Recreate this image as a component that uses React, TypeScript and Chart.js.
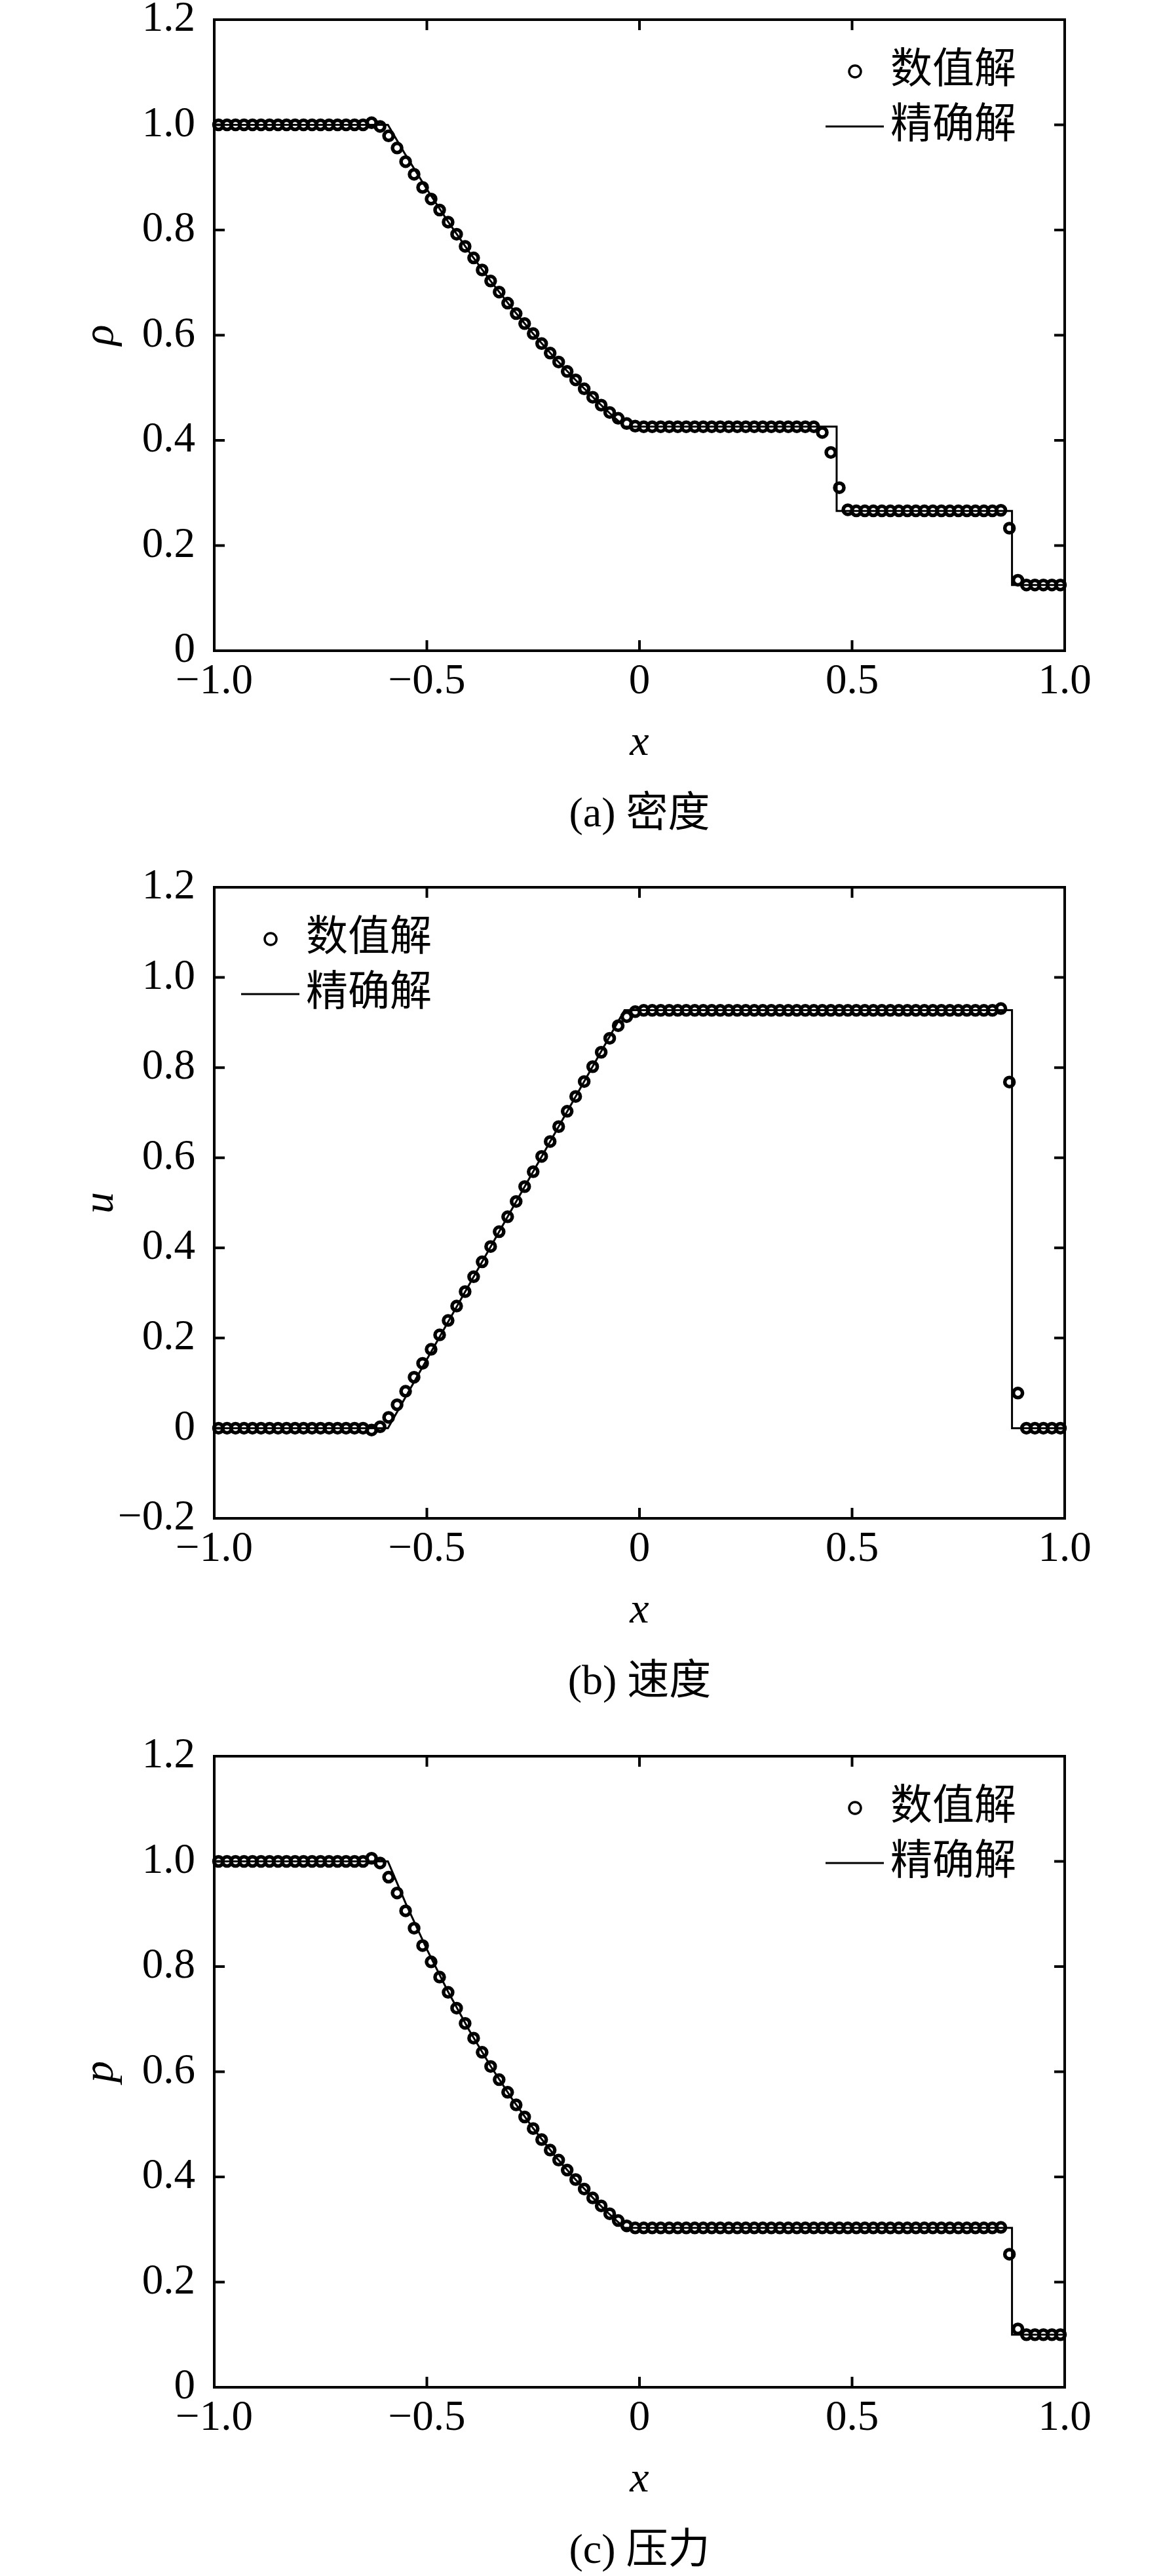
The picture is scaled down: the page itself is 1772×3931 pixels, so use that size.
import { useEffect, useRef } from 'react';
import { Chart, registerables } from 'chart.js';

Chart.register(...registerables);

// cell centres of the numerical solution
const cellX = [
  -0.99, -0.97, -0.95, -0.93, -0.91, -0.89, -0.87, -0.85, -0.83, -0.81,
  -0.79, -0.77, -0.75, -0.73, -0.71, -0.69, -0.67, -0.65, -0.63, -0.61,
  -0.59, -0.57, -0.55, -0.53, -0.51, -0.49, -0.47, -0.45, -0.43, -0.41,
  -0.39, -0.37, -0.35, -0.33, -0.31, -0.29, -0.27, -0.25, -0.23, -0.21,
  -0.19, -0.17, -0.15, -0.13, -0.11, -0.09, -0.07, -0.05, -0.03, -0.01,
  0.01, 0.03, 0.05, 0.07, 0.09, 0.11, 0.13, 0.15, 0.17, 0.19,
  0.21, 0.23, 0.25, 0.27, 0.29, 0.31, 0.33, 0.35, 0.37, 0.39,
  0.41, 0.43, 0.45, 0.47, 0.49, 0.51, 0.53, 0.55, 0.57, 0.59,
  0.61, 0.63, 0.65, 0.67, 0.69, 0.71, 0.73, 0.75, 0.77, 0.79,
  0.81, 0.83, 0.85, 0.87, 0.89, 0.91, 0.93, 0.95, 0.97, 0.99,
];

const rhoNum = [
  1, 1, 1, 1, 1, 1, 1, 1, 1, 1,
  1, 1, 1, 1, 1, 1, 1, 1, 1.004, 0.997,
  0.979, 0.956, 0.93, 0.906, 0.881, 0.859, 0.838, 0.815, 0.792, 0.769,
  0.747, 0.724, 0.703, 0.682, 0.661, 0.641, 0.622, 0.603, 0.584, 0.566,
  0.549, 0.531, 0.515, 0.498, 0.482, 0.467, 0.453, 0.442, 0.432, 0.427,
  0.426, 0.426, 0.426, 0.426, 0.426, 0.426, 0.426, 0.426, 0.426, 0.426,
  0.426, 0.426, 0.426, 0.426, 0.426, 0.426, 0.426, 0.426, 0.426, 0.426,
  0.426, 0.415, 0.377, 0.31, 0.268, 0.266, 0.266, 0.266, 0.266, 0.266,
  0.266, 0.266, 0.266, 0.266, 0.266, 0.266, 0.266, 0.266, 0.266, 0.266,
  0.266, 0.266, 0.267, 0.233, 0.134, 0.125, 0.125, 0.125, 0.125, 0.125,
];

const uNum = [
  0, 0, 0, 0, 0, 0, 0, 0, 0, 0,
  0, 0, 0, 0, 0, 0, 0, 0, -0.004, 0.003,
  0.024, 0.052, 0.082, 0.113, 0.144, 0.175, 0.207, 0.239, 0.271, 0.303,
  0.336, 0.369, 0.403, 0.436, 0.469, 0.503, 0.536, 0.569, 0.603, 0.636,
  0.669, 0.703, 0.736, 0.769, 0.802, 0.834, 0.865, 0.893, 0.913, 0.924,
  0.927, 0.927, 0.927, 0.927, 0.927, 0.927, 0.927, 0.927, 0.927, 0.927,
  0.927, 0.927, 0.927, 0.927, 0.927, 0.927, 0.927, 0.927, 0.927, 0.927,
  0.927, 0.927, 0.927, 0.927, 0.927, 0.927, 0.927, 0.927, 0.927, 0.927,
  0.927, 0.927, 0.927, 0.927, 0.927, 0.927, 0.927, 0.927, 0.927, 0.927,
  0.927, 0.927, 0.931, 0.768, 0.078, 0, 0, 0, 0, 0,
];

const pNum = [
  1, 1, 1, 1, 1, 1, 1, 1, 1, 1,
  1, 1, 1, 1, 1, 1, 1, 1, 1.006, 0.997,
  0.97, 0.94, 0.906, 0.873, 0.84, 0.809, 0.78, 0.751, 0.721, 0.692,
  0.664, 0.637, 0.61, 0.585, 0.561, 0.537, 0.514, 0.492, 0.471, 0.451,
  0.432, 0.413, 0.395, 0.377, 0.36, 0.345, 0.33, 0.317, 0.307, 0.303,
  0.303, 0.303, 0.303, 0.303, 0.303, 0.303, 0.303, 0.303, 0.303, 0.303,
  0.303, 0.303, 0.303, 0.303, 0.303, 0.303, 0.303, 0.303, 0.303, 0.303,
  0.303, 0.303, 0.303, 0.303, 0.303, 0.303, 0.303, 0.303, 0.303, 0.303,
  0.303, 0.303, 0.303, 0.303, 0.303, 0.303, 0.303, 0.303, 0.303, 0.303,
  0.303, 0.303, 0.304, 0.253, 0.111, 0.1, 0.1, 0.1, 0.1, 0.1,
];

// exact solution (polyline vertices)
const rhoExactX = [-1, -0.5916, -0.55, -0.5, -0.45, -0.4, -0.35, -0.3, -0.25, -0.2, -0.15, -0.1, -0.07, -0.0351, 0.4637, 0.4637, 0.8761, 0.8761, 1];
const rhoExactY = [1, 1, 0.9428, 0.8775, 0.8158, 0.7577, 0.703, 0.6514, 0.6029, 0.5574, 0.5146, 0.4746, 0.4517, 0.4263, 0.4263, 0.2656, 0.2656, 0.125, 0.125];
const uExactX = [-1, -0.5916, -0.0351, 0.8761, 0.8761, 1];
const uExactY = [0, 0, 0.9274, 0.9274, 0, 0];
const pExactX = [-1, -0.5916, -0.55, -0.5, -0.45, -0.4, -0.35, -0.3, -0.25, -0.2, -0.15, -0.1, -0.07, -0.0351, 0.8761, 0.8761, 1];
const pExactY = [1, 1, 0.9208, 0.8328, 0.752, 0.6781, 0.6105, 0.5488, 0.4925, 0.4412, 0.3946, 0.3522, 0.3287, 0.3031, 0.3031, 0.1, 0.1];

const xTickValues = [-1, -0.5, 0, 0.5, 1];
const xTickLabels = ['\u22121.0', '\u22120.5', '0', '0.5', '1.0'];
const yTickValues = [0, 0.2, 0.4, 0.6, 0.8, 1, 1.2];
const yTickLabels = ['0', '0.2', '0.4', '0.6', '0.8', '1.0', '1.2'];
const uTickValues = [-0.2, 0, 0.2, 0.4, 0.6, 0.8, 1, 1.2];
const uTickLabels = ['\u22120.2', '0', '0.2', '0.4', '0.6', '0.8', '1.0', '1.2'];

const seriesLabels = ['数值解', '精确解'];

const SERIF = '"Liberation Serif", "Times New Roman", "Noto Sans CJK SC", serif';
const CANVAS_W = 1772;
const PAD_TOP = 70; // must exceed the y-axis top label overhang (half line + tick padding)
const PLOT_H = 963;
const CANVAS_H = 1350;
const PLOT_LEFT = 327;
const PLOT_BOTTOM = PAD_TOP + PLOT_H;

type FrameOpts = { legendX: number };

const framePlugin = {
  id: 'frame',
  afterDatasetsDraw(chart: any, _args: any, opts: FrameOpts) {
    const { ctx, chartArea: a, scales } = chart;
    ctx.save();
    ctx.strokeStyle = '#000';
    ctx.lineWidth = 4;
    ctx.strokeRect(a.left, a.top, a.right - a.left, a.bottom - a.top);

    // inward ticks on all four sides
    ctx.beginPath();
    scales.x.ticks.forEach((t: any) => {
      const px = scales.x.getPixelForValue(t.value);
      ctx.moveTo(px, a.bottom);
      ctx.lineTo(px, a.bottom - 16);
      ctx.moveTo(px, a.top);
      ctx.lineTo(px, a.top + 16);
    });
    scales.y.ticks.forEach((t: any) => {
      const py = scales.y.getPixelForValue(t.value);
      ctx.moveTo(a.left, py);
      ctx.lineTo(a.left + 16, py);
      ctx.moveTo(a.right, py);
      ctx.lineTo(a.right - 16, py);
    });
    ctx.stroke();

    // legend
    const lx = a.left + opts.legendX;
    const row1 = a.top + 79;
    const row2 = a.top + 163;
    ctx.lineWidth = 3.5;
    ctx.beginPath();
    ctx.arc(lx + 45, row1, 9, 0, Math.PI * 2);
    ctx.stroke();
    ctx.lineWidth = 3;
    ctx.beginPath();
    ctx.moveTo(lx, row2);
    ctx.lineTo(lx + 89, row2);
    ctx.stroke();
    ctx.fillStyle = '#000';
    ctx.font = `64px ${SERIF}`;
    ctx.textAlign = 'left';
    ctx.textBaseline = 'middle';
    ctx.fillText(chart.data.datasets[0].label, lx + 99, row1);
    ctx.fillText(chart.data.datasets[1].label, lx + 99, row2);
    ctx.restore();
  },
};

type PanelProps = {
  top: number;
  yTitle: string;
  yMin: number;
  yTicks: number[];
  yLabels: string[];
  numY: number[];
  exactX: number[];
  exactY: number[];
  legendX: number;
  caption: string;
};

const Panel = ({ top, yTitle, yMin, yTicks, yLabels, numY, exactX, exactY, legendX, caption }: PanelProps) => {
  const canvasRef = useRef<HTMLCanvasElement>(null);

  useEffect(() => {
    if (!canvasRef.current) return;
    const chart = new Chart(canvasRef.current, {
      type: 'scatter',
      data: {
        datasets: [
          {
            label: seriesLabels[0],
            data: cellX.map((x, i) => ({ x, y: numY[i] })),
            pointStyle: 'circle',
            pointRadius: 7,
            pointBorderWidth: 5.5,
            pointBorderColor: '#000',
            pointBackgroundColor: 'rgba(0,0,0,0)',
            showLine: false,
            clip: 20,
          },
          {
            label: seriesLabels[1],
            data: exactX.map((x, i) => ({ x, y: exactY[i] })),
            showLine: true,
            pointRadius: 0,
            borderColor: '#000',
            borderWidth: 3,
            tension: 0,
          },
        ],
      },
      options: {
        animation: false,
        responsive: false,
        devicePixelRatio: 1,
        events: [],
        layout: { padding: { top: PAD_TOP, right: CANVAS_W - 1625, left: 0, bottom: 0 } },
        plugins: {
          legend: { display: false },
          tooltip: { enabled: false },
          frame: { legendX },
        } as any,
        scales: {
          x: {
            type: 'linear',
            min: -1,
            max: 1,
            afterBuildTicks: (s: any) => {
              s.ticks = xTickValues.map((value) => ({ value }));
            },
            afterFit: (s: any) => {
              s.height = CANVAS_H - PLOT_BOTTOM;
            },
            grid: { display: false, drawTicks: false },
            border: { display: false },
            ticks: {
              autoSkip: false,
              maxRotation: 0,
              padding: 9,
              color: '#000',
              font: { family: SERIF, size: 65 },
              callback: (_v: any, i: number) => xTickLabels[i],
            },
            title: {
              display: true,
              text: 'x',
              color: '#000',
              font: { family: SERIF, size: 66, style: 'italic' },
              padding: { top: 0, bottom: 136 },
            },
          },
          y: {
            type: 'linear',
            min: yMin,
            max: 1.2,
            afterBuildTicks: (s: any) => {
              s.ticks = yTicks.map((value) => ({ value }));
            },
            afterFit: (s: any) => {
              s.width = PLOT_LEFT;
            },
            grid: { display: false, drawTicks: false },
            border: { display: false },
            ticks: {
              autoSkip: false,
              padding: 29,
              color: '#000',
              font: { family: SERIF, size: 65 },
              callback: (_v: any, i: number) => yLabels[i],
            },
            title: {
              display: true,
              text: yTitle,
              color: '#000',
              font: { family: SERIF, size: 66, style: 'italic' },
              padding: { top: 115, bottom: 0 },
            },
          },
        },
      },
      plugins: [framePlugin],
    });
    return () => {
      chart.destroy();
    };
  }, []);

  return (
    <>
      <canvas
        ref={canvasRef}
        width={CANVAS_W}
        height={CANVAS_H}
        style={{ position: 'absolute', left: 0, top: top - PAD_TOP, width: CANVAS_W, height: CANVAS_H, display: 'block' }}
      />
      <div
        style={{
          position: 'absolute',
          left: PLOT_LEFT,
          width: 1298,
          top: top + PLOT_H + 212,
          height: 70,
          lineHeight: '70px',
          textAlign: 'center',
          fontFamily: SERIF,
          fontSize: 64,
          color: '#000',
          whiteSpace: 'nowrap',
        }}
      >
        {caption}
      </div>
    </>
  );
};

export default function App() {
  return (
    <div
      style={{
        position: 'absolute',
        left: 0,
        top: 0,
        width: 1772,
        height: 3931,
        overflow: 'hidden',
        background: '#fff',
      }}
    >
      <Panel top={30} yTitle="ρ" yMin={0} yTicks={yTickValues} yLabels={yTickLabels} numY={rhoNum} exactX={rhoExactX} exactY={rhoExactY} legendX={933} caption="(a) 密度" />
      <Panel top={1354} yTitle="u" yMin={-0.2} yTicks={uTickValues} yLabels={uTickLabels} numY={uNum} exactX={uExactX} exactY={uExactY} legendX={41} caption="(b) 速度" />
      <Panel top={2680} yTitle="p" yMin={0} yTicks={yTickValues} yLabels={yTickLabels} numY={pNum} exactX={pExactX} exactY={pExactY} legendX={933} caption="(c) 压力" />
    </div>
  );
}
